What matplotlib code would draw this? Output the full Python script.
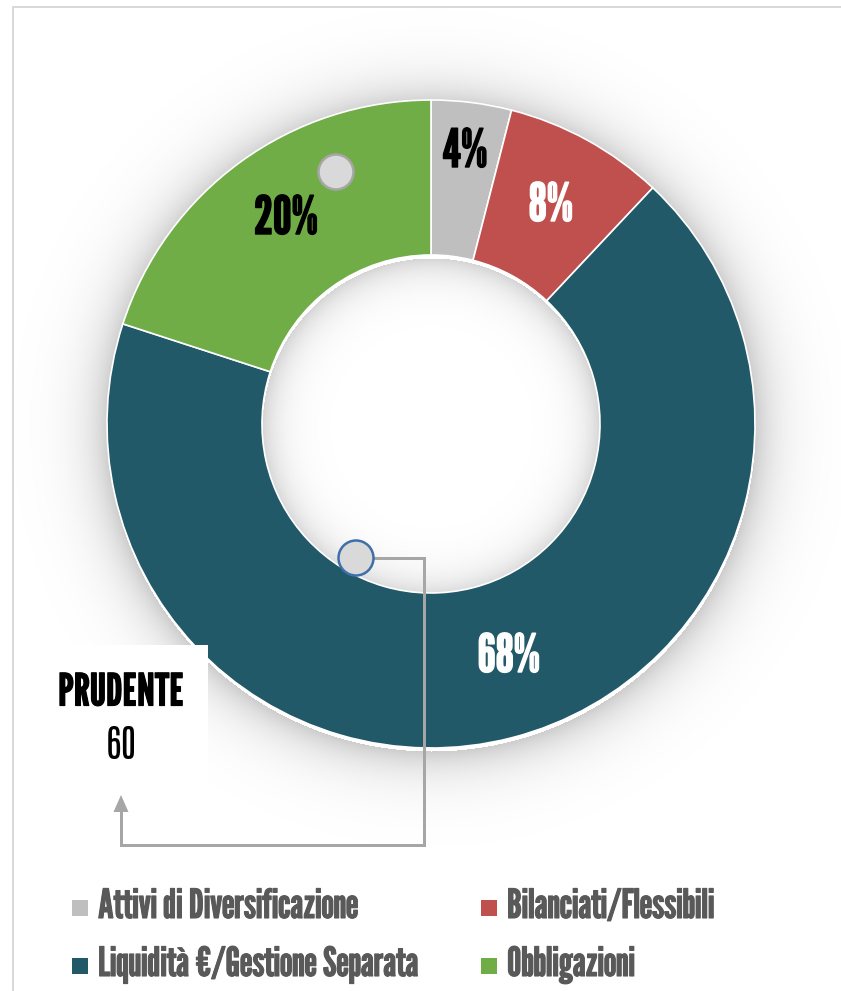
import matplotlib
matplotlib.use("Agg")
import matplotlib.pyplot as plt
from matplotlib.patches import Rectangle, Circle, Polygon
from matplotlib.lines import Line2D
import matplotlib.patheffects as pe
import numpy as np

categories = ["Attivi di Diversificazione", "Bilanciati/Flessibili",
              "Liquidità €/Gestione Separata", "Obbligazioni"]
values = [4, 8, 68, 20]
colors = ["#BFBFBF", "#C0504D", "#215968", "#70AD47"]
label_colors = ["black", "white", "white", "black"]
profile_name = "PRUDENTE"
profile_value = "60"

FONT = ["League Gothic", "DejaVu Sans"]
FONT_LIGHT = ["Antonio", "League Gothic", "DejaVu Sans"]

W, H = 841, 991
fig = plt.figure(figsize=(W / 100, H / 100), dpi=100)
ax = fig.add_axes([0, 0, 1, 1])

def Y(y):
    return H - y

px = 72 / 100  # points per pixel

def bold(color, w=1.0):
    return [pe.withStroke(linewidth=w * px, foreground=color)]

cx, cy, R, r_in = 431, 424, 324, 169

# soft shadow (outer glow + inner hole shadow)
yy, xx = np.mgrid[0:H, 0:W]
d = np.hypot(xx - cx, yy - (cy + 3))
alpha = np.zeros_like(d)
out = d > R
alpha[out] = 0.2 * np.exp(-(d[out] - R) / 24.0)
inn = d < r_in
alpha[inn] = 0.17 * np.exp(-(r_in - d[inn]) / 18.0)
shadow = np.zeros((H, W, 4))
shadow[..., 3] = alpha
ax.imshow(shadow, extent=(0, W, 0, H), origin="upper", zorder=0, interpolation="bilinear")

wedges, texts, autotexts = ax.pie(values, colors=colors, startangle=90, counterclock=False,
                                  radius=R, center=(cx, Y(cy)),
                                  wedgeprops=dict(width=R - r_in, edgecolor="white", linewidth=1.2),
                                  autopct="%d%%", pctdistance=248 / R, frame=True)
for w in wedges:
    w.set_zorder(2)
# label placement (pixel positions of the label centres, as in the original layout)
label_pos = [(465, 153), (551, 207), (509, 658), (286, 220)]
for t, c, (lx, ly) in zip(autotexts, label_colors, label_pos):
    t.set_color(c)
    t.set_fontsize(38)
    t.set_family(FONT)
    t.set_zorder(5)
    t.set_path_effects(bold(c, 1.4))
    t.set_position((lx, Y(ly)))

ax.set_xlim(0, W)
ax.set_ylim(0, H)
ax.set_aspect("auto")
ax.axis("off")

# frame lines of the chart area
ax.add_line(Line2D([13, W], [Y(7), Y(7)], color="#D9D9D9", lw=2 * px, zorder=1))
ax.add_line(Line2D([13, 13], [Y(7), 0], color="#D9D9D9", lw=2 * px, zorder=1))

# white label box
ax.add_patch(Rectangle((40, Y(790)), 168, 145, facecolor="white", edgecolor="none", zorder=6))
ax.text(121, Y(693), profile_name, ha="center", va="center", fontsize=32, family=FONT,
        color="black", zorder=7, path_effects=bold("black", 1.2))
ax.text(121, Y(745), profile_value, ha="center", va="center", fontsize=27, family=FONT_LIGHT,
        color="black", zorder=7)

# connector with arrow
conn_x = [374, 424, 424, 121, 121]
conn_y = [558, 558, 845, 845, 810]
ax.add_line(Line2D(conn_x, [Y(v) for v in conn_y], color="#A6A6A6", lw=3 * px,
                   solid_joinstyle="miter", zorder=8))
ax.add_patch(Polygon([(121, Y(795)), (113.5, Y(812)), (128.5, Y(812))], closed=True,
                     facecolor="#A6A6A6", edgecolor="none", zorder=8))

# markers
ax.add_patch(Circle((336, Y(172)), 17.5, facecolor="#D9D9D9", edgecolor="#A6A6A6",
                    lw=2.5 * px, zorder=9))
ax.add_patch(Circle((356, Y(558)), 17.5, facecolor="#D9D9D9", edgecolor="#3E6FA8",
                    lw=2.5 * px, zorder=9))

# legend (2 columns, row-major)
col_x = [72, 481]
row_y = [908, 966]
for i, (lab, col) in enumerate(zip(categories, colors)):
    r, c = divmod(i, 2)
    x0, y0 = col_x[c], row_y[r]
    ax.add_patch(Rectangle((x0, Y(y0 + 8)), 16, 16, facecolor=col, edgecolor="none", zorder=3))
    ax.text(x0 + 26, Y(y0 - 1), lab, ha="left", va="center", fontsize=29, family=FONT,
            color="#595959", zorder=3, path_effects=bold("#595959", 1.1))

fig.savefig("out.png", dpi=100)
